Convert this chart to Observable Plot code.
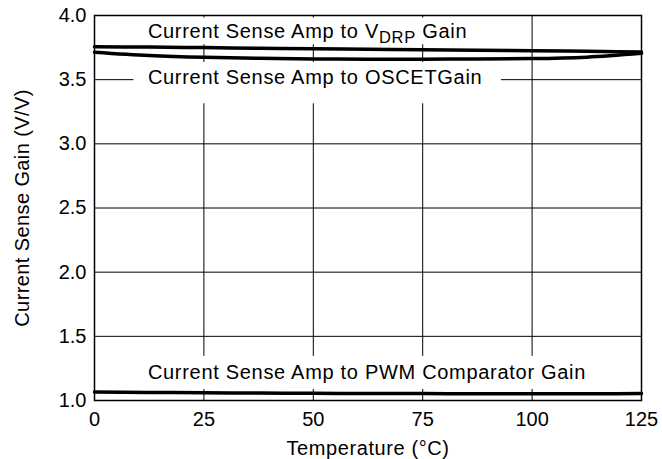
<!DOCTYPE html>
<html>
<head>
<meta charset="utf-8">
<script src="https://cdn.jsdelivr.net/npm/d3@7"></script>
<script src="https://cdn.jsdelivr.net/npm/@observablehq/plot@0.6"></script>
<style>
  html, body { margin: 0; padding: 0; background: #fff; }
  #chart svg { display: block; }
</style>
</head>
<body>
<div id="chart"></div>
<script>
// ---- data ----
const temperature = [0, 12.5, 25, 37.5, 50, 62.5, 75, 87.5, 100, 112.5, 125];
const vdrpGain  = [3.757, 3.754, 3.750, 3.745, 3.741, 3.737, 3.733, 3.730, 3.726, 3.721, 3.715];
const oscetGain = [3.714, 3.688, 3.674, 3.666, 3.662, 3.660, 3.660, 3.661, 3.664, 3.675, 3.705];
const pwmGain   = [1.066, 1.063, 1.060, 1.058, 1.056, 1.055, 1.054, 1.053, 1.053, 1.053, 1.054];

const xTicks = [0, 25, 50, 75, 100, 125];
const yTicks = [1.0, 1.5, 2.0, 2.5, 3.0, 3.5, 4.0];
const xGrid = [25, 50, 75, 100];
const yGrid = [1.5, 2.0, 2.5, 3.0, 3.5];

const labelTexts = ["Current Sense Amp to VDRP Gain", "Current Sense Amp to OSCETGain", "Current Sense Amp to PWM Comparator Gain"];
const labelX = [12.2, 12.2, 12.2];
const labelY = [3.875, 3.515, 1.218];
// white boxes behind the labels (data units)
const boxX1 = [2, 9, 1.5];
const boxX2 = [90, 93, 124];
const boxY1 = [3.772, 3.312, 1.086];
const boxY2 = [3.98, 3.634, 1.344];

const xAxisTitle = "Temperature (°C)";
const yAxisTitle = "Current Sense Gain (V/V)";

// ---- build tables ----
const series = [
  ...temperature.map((t, i) => ({t, g: vdrpGain[i], s: "vdrp"})),
  ...temperature.map((t, i) => ({t, g: oscetGain[i], s: "oscet"})),
  ...temperature.map((t, i) => ({t, g: pwmGain[i], s: "pwm"}))
];
const labels = labelTexts.map((text, i) => ({text, x: labelX[i], y: labelY[i]}));
const boxes = boxX1.map((x1, i) => ({x1, x2: boxX2[i], y1: boxY1[i], y2: boxY2[i]}));

const FONT = "'Liberation Sans', Arial, Helvetica, sans-serif";
const FS = 20;

const chart = Plot.plot({
  width: 662,
  height: 459,
  marginLeft: 94,
  marginRight: 21,
  marginTop: 15,
  marginBottom: 59,
  style: {fontFamily: FONT, fontSize: FS + "px", color: "black", background: "white", overflow: "visible"},
  x: {domain: [0, 125]},
  y: {domain: [1.0, 4.0]},
  marks: [
    Plot.ruleX(xGrid, {stroke: "black", strokeWidth: 1}),
    Plot.ruleY(yGrid, {stroke: "black", strokeWidth: 1}),
    Plot.rect(boxes, {x1: "x1", x2: "x2", y1: "y1", y2: "y2", fill: "white"}),
    Plot.line(series, {x: "t", y: "g", z: "s", stroke: "black", strokeWidth: 3.5, curve: "natural"}),
    Plot.text(labels, {x: "x", y: "y", text: "text", textAnchor: "start", fill: "black", fontSize: FS, className: "curve-label"}),
    Plot.frame({stroke: "black", strokeWidth: 1.5}),
    Plot.axisX(xTicks, {tickSize: 0, tickPadding: 11, fontSize: FS, tickFormat: d => String(d)}),
    Plot.axisY(yTicks, {tickSize: 0, tickPadding: 8, fontSize: FS, tickFormat: d3.format(".1f")}),
    Plot.text([xAxisTitle], {frameAnchor: "bottom", dy: 54, fontSize: FS, fill: "black", className: "x-title"}),
    Plot.text([yAxisTitle], {frameAnchor: "left", textAnchor: "middle", lineAnchor: "middle", dx: -72, rotate: -90, fontSize: FS, fill: "black", className: "y-title"})
  ]
});

d3.select(chart).selectAll(".curve-label text").attr("letter-spacing", "0.7px");
d3.select(chart).selectAll(".x-title text").attr("letter-spacing", "0.6px");
d3.select(chart).selectAll(".y-title text").attr("letter-spacing", "0.4px");

// subscript DRP in the first label
d3.select(chart).selectAll("text").each(function() {
  const el = d3.select(this);
  if (el.text() === "Current Sense Amp to VDRP Gain") {
    el.text(null);
    el.append("tspan").text("Current Sense Amp to V");
    el.append("tspan").attr("dy", 5).attr("font-size", 16.5).text("DRP");
    el.append("tspan").attr("dy", -5).text(" Gain");
  }
});

document.getElementById("chart").appendChild(chart);
</script>
</body>
</html>
